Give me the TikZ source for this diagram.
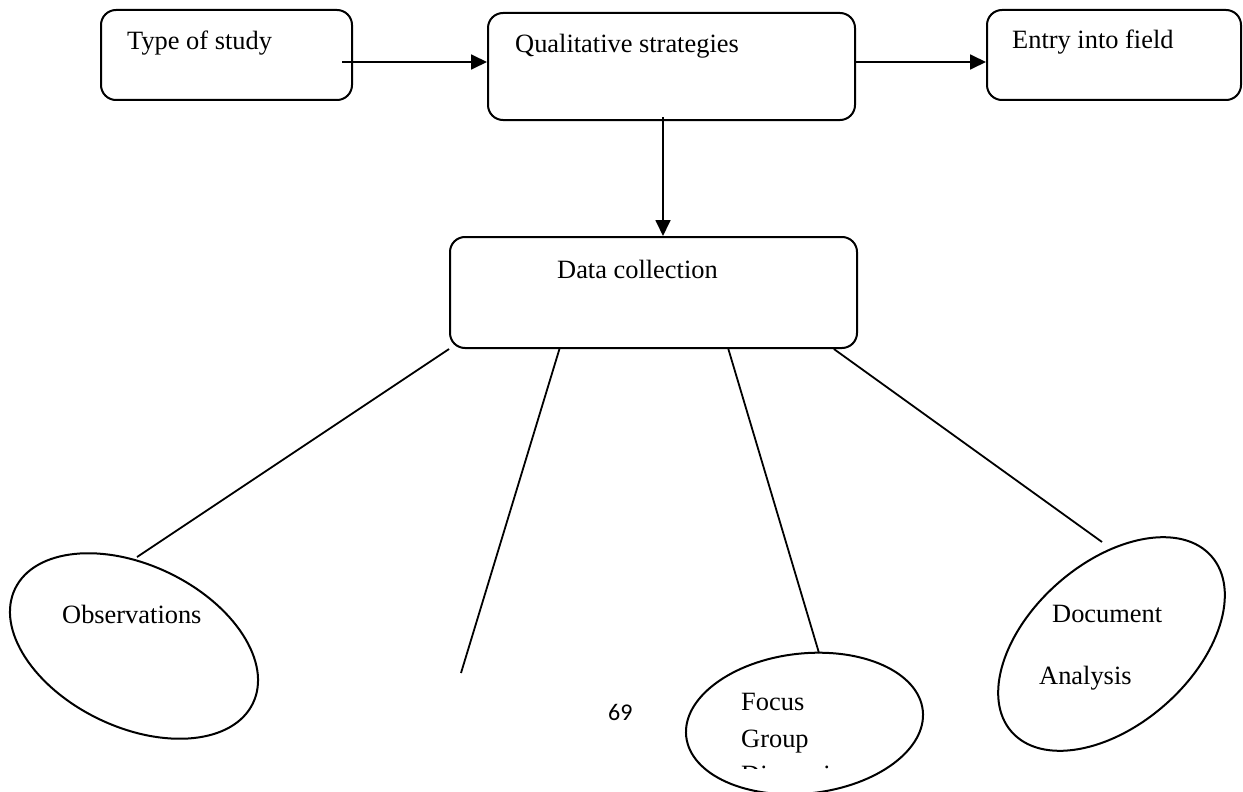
\documentclass[tikz,border=0pt]{standalone}
\usepackage{fontspec}
\setmainfont{Liberation Serif}
\newfontfamily\calib{Carlito}
\usetikzlibrary{arrows.meta,shapes.geometric,calc}
\begin{document}
\begin{tikzpicture}[x=1pt,y=-1pt,
  box/.style={draw, line width=2pt, rounded corners=15pt, inner sep=0pt},
  oval/.style={draw, ellipse, line width=2pt, inner sep=0pt},
  lbl/.style={anchor=base west, inner sep=0pt, font=\fontsize{26.4}{31}\selectfont},
  conn/.style={line width=1.8pt},
  arr/.style={line width=1.8pt, -{Triangle[length=16pt,width=15pt]}}]
\useasboundingbox (0,0) rectangle (1243,792);
\clip (0,0) rectangle (1243,792);
% boxes
\node[box, minimum width=251pt, minimum height=90pt] (type) at (226.5,55) {};
\node[box, minimum width=367pt, minimum height=107pt] (qual) at (671.5,66.5) {};
\node[box, minimum width=254pt, minimum height=90pt] (entry) at (1114,55) {};
\node[box, minimum width=407pt, minimum height=111pt] (data) at (653.5,292.5) {};
% box texts
\node[lbl] (ttype) at (127,50) {Type of study};
\node[lbl] (tqual) at (515,53) {Qualitative strategies};
\node[lbl] (tentry) at (1012,49) {Entry into field};
\node[lbl] (tdata) at (557,278) {Data collection};
% arrows
\coordinate (a1s) at (342,62);
\coordinate (a2s) at (855,62);
\coordinate (a3s) at (663,117);
\draw[arr] (a1s) -- (qual.west |- a1s);
\draw[arr] (a2s) -- (entry.west |- a2s);
\draw[arr] (a3s) -- (a3s |- data.north);
% ellipses
\node[oval, minimum width=264pt, minimum height=162pt, rotate=-25.7] (obs) at (134,646) {};
\node[oval, minimum width=266pt, minimum height=162pt, rotate=41.3] (doc) at (1111.5,644) {};
\node[oval, minimum width=238pt, minimum height=140pt, rotate=6.3] (focus) at (804.5,723.5) {};
% ellipse texts
\node[lbl] (tobs) at (62,623) {Observations};
\node[lbl] (tdoc1) at (1052,622) {Document};
\node[lbl] (tdoc2) at (1039,684) {Analysis};
\node[lbl] (tfoc1) at (741,710) {Focus};
\node[lbl] (tfoc2) at (741,747) {Group};
\begin{scope}
\clip (700,700) rectangle (900,768);
\node[lbl] (tfoc3) at (741,783) {Discussion};
\end{scope}
% page number
\node[anchor=base west, inner sep=0pt, font=\calib\fontsize{24}{28}\selectfont] (page) at (608,720) {69};
% connectors from data collection
\coordinate (e1) at (137,557);
\coordinate (e2) at (461,673);
\coordinate (e3) at (819,653);
\coordinate (e4) at (1102,542);
\draw[conn] (data.south west) -- (e1);
\draw[conn] ($(data.south west)!0.27!(data.south east)$) -- (e2);
\draw[conn] ($(data.south west)!0.683!(data.south east)$) -- (e3);
\draw[conn] ($(data.south west)!0.941!(data.south east)$) -- (e4);
\end{tikzpicture}
\end{document}
